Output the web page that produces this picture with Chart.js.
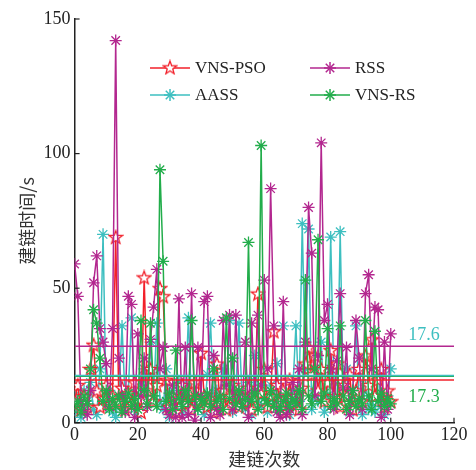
<!DOCTYPE html>
<html>
<head>
<meta charset="utf-8">
<script src="https://cdn.jsdelivr.net/npm/chart.js@4.4.0/dist/chart.umd.min.js"></script>
<style>
  html, body { margin: 0; padding: 0; background: #fff; }
  #wrap { width: 476px; height: 470px; }
</style>
</head>
<body>
<div id="wrap"><canvas id="chart" width="476" height="470"></canvas></div>
<script>
// run index 0..100
const runs = Array.from({ length: 101 }, (_, i) => i);

const vnsPso = [8, 14, 5, 10, 6, 20, 29, 12, 6, 9, 14, 7, 10, 69, 8, 13, 5, 11, 7, 15,
  9, 4, 54, 12, 20, 8, 14, 50, 47, 16, 6, 10, 4, 9, 14, 7, 12, 5, 15, 8,
  26, 10, 6, 9, 4, 22, 8, 12, 5, 10, 14, 7, 6, 10, 8, 13, 5, 9, 48, 11,
  20, 6, 10, 34, 14, 8, 12, 4, 16, 7, 10, 5, 13, 22, 28, 18, 25, 12, 20, 8,
  15, 27, 10, 22, 6, 14, 10, 18, 5, 12, 20, 8, 25, 14, 31, 10, 16, 20, 6, 12, 8];

const rss = [59, 47, 8, 5, 3, 12, 52, 62, 35, 30, 22, 6, 35, 142, 24, 10, 4, 47, 44, 2,
  33, 10, 24, 6, 31, 43, 57, 20, 28, 5, 3, 14, 2, 46, 2, 28, 3, 48, 1, 28,
  10, 45, 47, 2, 25, 5, 3, 38, 14, 40, 5, 40, 10, 6, 30, 2, 37, 12, 40, 14,
  53, 20, 87, 36, 4, 2, 45, 3, 5, 15, 8, 20, 3, 30, 80, 63, 10, 25, 104, 38,
  44, 20, 5, 23, 48, 13, 28, 3, 12, 38, 24, 5, 48, 55, 20, 43, 42, 2, 30, 5, 33];

const aass = [10, 4, 2, 12, 8, 15, 5, 3, 20, 70, 6, 12, 4, 2, 10, 36, 8, 12, 39, 5,
  3, 14, 20, 6, 30, 10, 37, 8, 5, 20, 2, 12, 8, 15, 4, 10, 39, 6, 14, 5,
  9, 3, 18, 37, 8, 12, 5, 20, 10, 38, 4, 12, 37, 8, 5, 15, 3, 25, 10, 6,
  20, 4, 14, 8, 22, 6, 36, 10, 3, 12, 36, 8, 74, 20, 72, 5, 12, 8, 30, 4,
  10, 69, 15, 6, 71, 10, 20, 4, 12, 36, 8, 3, 14, 5, 10, 4, 18, 6, 3, 10, 20];

const vnsRs = [6, 8, 4, 10, 7, 20, 42, 37, 24, 8, 12, 5, 9, 6, 10, 4, 8, 11, 6, 9,
  5, 38, 12, 7, 37, 10, 6, 94, 60, 8, 11, 5, 27, 9, 6, 12, 8, 38, 10, 5,
  9, 7, 11, 6, 20, 8, 10, 5, 39, 9, 24, 7, 12, 6, 9, 67, 8, 11, 5, 103,
  9, 7, 12, 6, 10, 5, 8, 11, 6, 9, 7, 12, 5, 53, 10, 7, 20, 68, 8, 11,
  35, 6, 9, 7, 36, 10, 5, 8, 12, 6, 9, 7, 38, 10, 5, 34, 8, 11, 6, 9, 7];

// average build time of each method (horizontal lines)
const seriesNames = ['VNS-PSO', 'RSS', 'AASS', 'VNS-RS'];
const seriesData = [vnsPso, rss, aass, vnsRs];
const seriesMeans = [15.9, 28.4, 17.6, 17.3];
const seriesColors = ['#f2202a', '#b3278f', '#3dbfc0', '#22ad4b'];

const xTicks = [0, 20, 40, 60, 80, 100, 120];
const yTicks = [0, 50, 100, 150];

const serif = '"Liberation Serif", "Times New Roman", serif';
const cjk = '"Noto Sans CJK SC", sans-serif';

// hollow pentagram marker for VNS-PSO
function pentagram(color) {
  const c = document.createElement('canvas');
  c.width = 16; c.height = 16;
  const g = c.getContext('2d');
  g.beginPath();
  for (let k = 0; k < 10; k++) {
    const r = k % 2 === 0 ? 7 : 2.9;
    const a = -Math.PI / 2 + k * Math.PI / 5;
    const px = 8 + r * Math.cos(a), py = 8.6 + r * Math.sin(a);
    k === 0 ? g.moveTo(px, py) : g.lineTo(px, py);
  }
  g.closePath();
  g.fillStyle = '#fff';
  g.fill();
  g.strokeStyle = color;
  g.lineWidth = 1.3;
  g.stroke();
  return c;
}
const starMark = pentagram(seriesColors[0]);

const drawOrder = [3, 2, 4, 1]; // green on top
const datasets = seriesData.map((vals, i) => ({
  label: seriesNames[i],
  data: vals.map((v, j) => ({ x: runs[j], y: v })),
  borderColor: seriesColors[i],
  backgroundColor: seriesColors[i],
  borderWidth: 1.5,
  pointStyle: i === 0 ? starMark : 'star',
  pointRadius: 6,
  pointBorderWidth: 1.3,
  order: drawOrder[i]
}));
seriesMeans.forEach((m, i) => {
  datasets.push({
    label: seriesNames[i] + ' mean',
    data: [{ x: xTicks[0], y: m }, { x: xTicks[xTicks.length - 1], y: m }],
    borderColor: seriesColors[i],
    borderWidth: 1.5,
    pointRadius: 0,
    order: 0
  });
});

const extras = {
  id: 'extras',
  afterDraw(chart) {
    const { ctx, scales: { x, y } } = chart;
    ctx.save();
    // inward ticks
    ctx.strokeStyle = '#222';
    ctx.lineWidth = 1.2;
    xTicks.forEach(t => {
      const px = x.getPixelForValue(t);
      ctx.beginPath(); ctx.moveTo(px, y.bottom); ctx.lineTo(px, y.bottom - 5); ctx.stroke();
    });
    yTicks.forEach(t => {
      const py = y.getPixelForValue(t);
      ctx.beginPath(); ctx.moveTo(x.left, py); ctx.lineTo(x.left + 5, py); ctx.stroke();
    });
    // legend, two columns, row by row
    const cols = [150, 310], rows = [68, 95];
    ctx.font = '17px ' + serif;
    ctx.textBaseline = 'middle';
    seriesNames.forEach((name, k) => {
      const nx = cols[k % 2], ny = rows[Math.floor(k / 2)];
      ctx.strokeStyle = seriesColors[k];
      ctx.lineWidth = 1.5;
      ctx.beginPath(); ctx.moveTo(nx, ny); ctx.lineTo(nx + 40, ny); ctx.stroke();
      if (k === 0) {
        ctx.drawImage(starMark, nx + 20 - 8, ny - 8.6);
      } else {
        for (let a = 0; a < 4; a++) {
          const ang = a * Math.PI / 4;
          ctx.beginPath();
          ctx.moveTo(nx + 20 - 6 * Math.cos(ang), ny - 6 * Math.sin(ang));
          ctx.lineTo(nx + 20 + 6 * Math.cos(ang), ny + 6 * Math.sin(ang));
          ctx.stroke();
        }
      }
      ctx.fillStyle = '#222';
      ctx.fillText(name, nx + 45, ny + 1);
    });
    // mean value labels
    ctx.font = '18px ' + serif;
    ctx.textAlign = 'left';
    ctx.fillStyle = seriesColors[2];
    ctx.fillText(seriesMeans[2].toFixed(1), x.getPixelForValue(105.5), y.getPixelForValue(32.5));
    ctx.fillStyle = seriesColors[3];
    ctx.fillText(seriesMeans[3].toFixed(1), x.getPixelForValue(105.5), y.getPixelForValue(9.5));
    ctx.restore();
  }
};

new Chart(document.getElementById('chart').getContext('2d'), {
  type: 'line',
  data: { datasets },
  options: {
    responsive: false,
    animation: false,
    layout: { padding: { top: 19, right: 22, left: 16, bottom: 0 } },
    plugins: { legend: { display: false }, tooltip: { enabled: false } },
    scales: {
      x: {
        type: 'linear', min: 0, max: 120,
        afterBuildTicks: s => { s.ticks = xTicks.map(v => ({ value: v })); },
        grid: { display: false, drawTicks: false },
        border: { display: true, color: '#222', width: 1.5 },
        ticks: { color: '#222', font: { family: serif, size: 18 }, padding: 2 },
        title: { display: true, text: '建链次数', color: '#333', font: { family: cjk, size: 18 }, padding: { top: 0, bottom: 0 } }
      },
      y: {
        type: 'linear', min: 0, max: 150,
        afterBuildTicks: s => { s.ticks = yTicks.map(v => ({ value: v })); },
        grid: { display: false, drawTicks: false },
        border: { display: true, color: '#222', width: 1.5 },
        ticks: { color: '#222', font: { family: serif, size: 18 }, padding: 4 },
        title: { display: true, text: '建链时间/s', color: '#333', font: { family: cjk, size: 18 }, padding: { top: 0, bottom: 2 } }
      }
    }
  },
  plugins: [extras]
});
</script>
</body>
</html>
